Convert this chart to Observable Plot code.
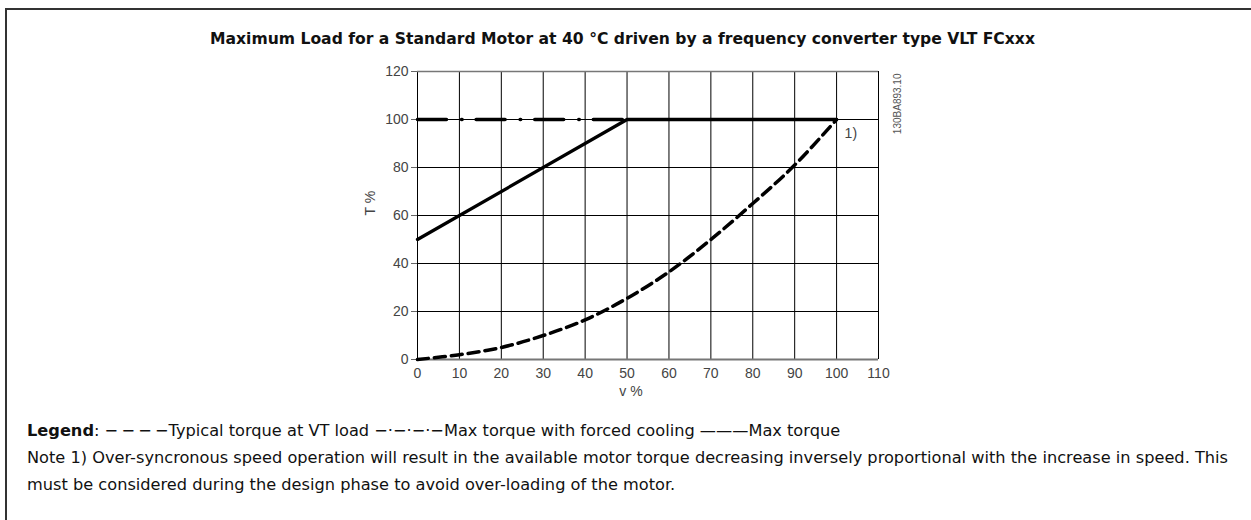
<!DOCTYPE html>
<html>
<head>
<meta charset="utf-8">
<script src="https://cdn.jsdelivr.net/npm/d3@7"></script>
<script src="https://cdn.jsdelivr.net/npm/@observablehq/plot@0.6"></script>
<style>
  html, body { margin: 0; padding: 0; background: #fff; }
  #wrap { position: relative; width: 1251px; height: 520px; overflow: hidden; background: #fff; }
  #frame { position: absolute; left: 5px; top: 8px; width: 1300px; height: 600px;
           border-left: 2px solid #333; border-top: 2px solid #333; }
  #title { position: absolute; left: -3px; width: 1251px; top: 30px; text-align: center;
           font-family: "DejaVu Sans", Verdana, sans-serif; font-weight: bold; font-size: 15.6px;
           line-height: 18px; color: #111; white-space: nowrap; }
  #chart { position: absolute; left: 0; top: 0; }
  .txt { position: absolute; left: 27px; font-family: "DejaVu Sans", Tahoma, sans-serif;
         font-size: 16.2px; line-height: 20px; color: #111; white-space: nowrap; }
  svg text { font-family: "Liberation Sans", Arial, sans-serif; }
</style>
</head>
<body>
<div id="wrap">
  <div id="frame"></div>
  <div id="title"></div>
  <div id="chart"></div>
  <div class="txt" id="legend" style="top:421px"></div>
  <div class="txt" id="note1" style="top:448px"></div>
  <div class="txt" id="note2" style="top:475px"></div>
</div>
<script>
const titleText = "Maximum Load for a Standard Motor at 40 °C driven by a frequency converter type VLT FCxxx";
const xTicks = [0, 10, 20, 30, 40, 50, 60, 70, 80, 90, 100, 110];
const yTicks = [0, 20, 40, 60, 80, 100, 120];
const xLabel = "v %";
const yLabel = "T %";

// Typical torque at VT load (dashed)
const vtSpeed  = [0, 10, 20, 30, 40, 50, 60, 70, 80, 90, 100];
const vtTorque = [0, 2, 5, 10, 16.5, 25.5, 36.5, 50, 65, 81, 100];
// Max torque with forced cooling (dash-dot)
const coolSpeed  = [0, 50];
const coolTorque = [100, 100];
// Max torque (solid)
const maxSpeed  = [0, 50, 100];
const maxTorque = [50, 100, 100];

const noteMark = "1)";
const docCode = "130BA893.10";
const legendItems = ["Typical torque at VT load", "Max torque with forced cooling", "Max torque"];
const note1 = "Note 1) Over-syncronous speed operation will result in the available motor torque decreasing inversely proportional with the increase in speed. This";
const note2 = "must be considered during the design phase to avoid over-loading of the motor.";

const vt = vtSpeed.map((v, i) => ({v, t: vtTorque[i]}));
const cool = coolSpeed.map((v, i) => ({v, t: coolTorque[i]}));
const mx = maxSpeed.map((v, i) => ({v, t: maxTorque[i]}));

const FF = "Liberation Sans, Arial, sans-serif";

const plot = Plot.plot({
  width: 1251,
  height: 420,
  marginLeft: 417,
  marginRight: 373,
  marginTop: 71,
  marginBottom: 61,
  style: {background: "transparent", fontFamily: FF, fontSize: "14px", color: "#444", overflow: "visible"},
  x: {domain: [0, 110], nice: false},
  y: {domain: [0, 120], nice: false},
  marks: [
    Plot.ruleX(xTicks, {x: d => d, y1: 0, y2: 120, stroke: "#000", strokeWidth: 1}),
    Plot.ruleY(yTicks.filter(d => d !== 0 && d !== 120), {y: d => d, x1: 0, x2: 110, stroke: "#000", strokeWidth: 1}),
    Plot.ruleY([120], {y: d => d, x1: 0, x2: 110, stroke: "#777", strokeWidth: 1.3}),
    Plot.ruleY([0], {y: d => d, x1: 0, x2: 110, stroke: "#777", strokeWidth: 1.8}),
    Plot.axisY(yTicks, {tickSize: 6, tickPadding: 3, label: null, stroke: "#666", fill: "#444", fontSize: 14, fontFamily: FF}),
    Plot.axisX(xTicks, {tickSize: 0, tickPadding: 9, label: null, fill: "#444", fontSize: 14, fontFamily: FF}),
    Plot.line(vt, {x: "v", y: "t", curve: "catmull-rom", stroke: "#000", strokeWidth: 3.5, strokeDasharray: "11,6"}),
    Plot.line(cool, {x: "v", y: "t", stroke: "#000", strokeWidth: 3.5, strokeDasharray: "29,15,0.6,14"}),
    Plot.line(mx, {x: "v", y: "t", stroke: "#000", strokeWidth: 3.3, strokeLinejoin: "miter"}),
    Plot.text([yLabel], {frameAnchor: "left", dx: -47, dy: 0, rotate: -90, fill: "#444", fontSize: 14, fontFamily: FF}),
    Plot.text([xLabel], {frameAnchor: "bottom", dx: -17, dy: 36, fill: "#444", fontSize: 14, fontFamily: FF}),
    Plot.text([{v: 100, t: 100, s: noteMark}], {x: "v", y: "t", text: "s", dx: 8, dy: 14, textAnchor: "start", fill: "#444", fontSize: 14, fontFamily: FF}),
    Plot.text([docCode], {frameAnchor: "top-right", dx: 15, dy: 2, rotate: -90, textAnchor: "end", fill: "#555", fontSize: 10, fontFamily: FF})
  ]
});
document.getElementById("chart").appendChild(plot);
document.getElementById("title").textContent = titleText;
document.getElementById("legend").innerHTML =
  "<b>Legend</b>: \u2212\u2009\u2212\u2009\u2212\u2009\u2212" + legendItems[0] +
  " \u2212\u00b7\u2212\u00b7\u2212\u00b7\u2212" + legendItems[1] +
  " \u2014\u2014\u2014" + legendItems[2];
document.getElementById("note1").textContent = note1;
document.getElementById("note2").textContent = note2;
</script>
</body>
</html>
